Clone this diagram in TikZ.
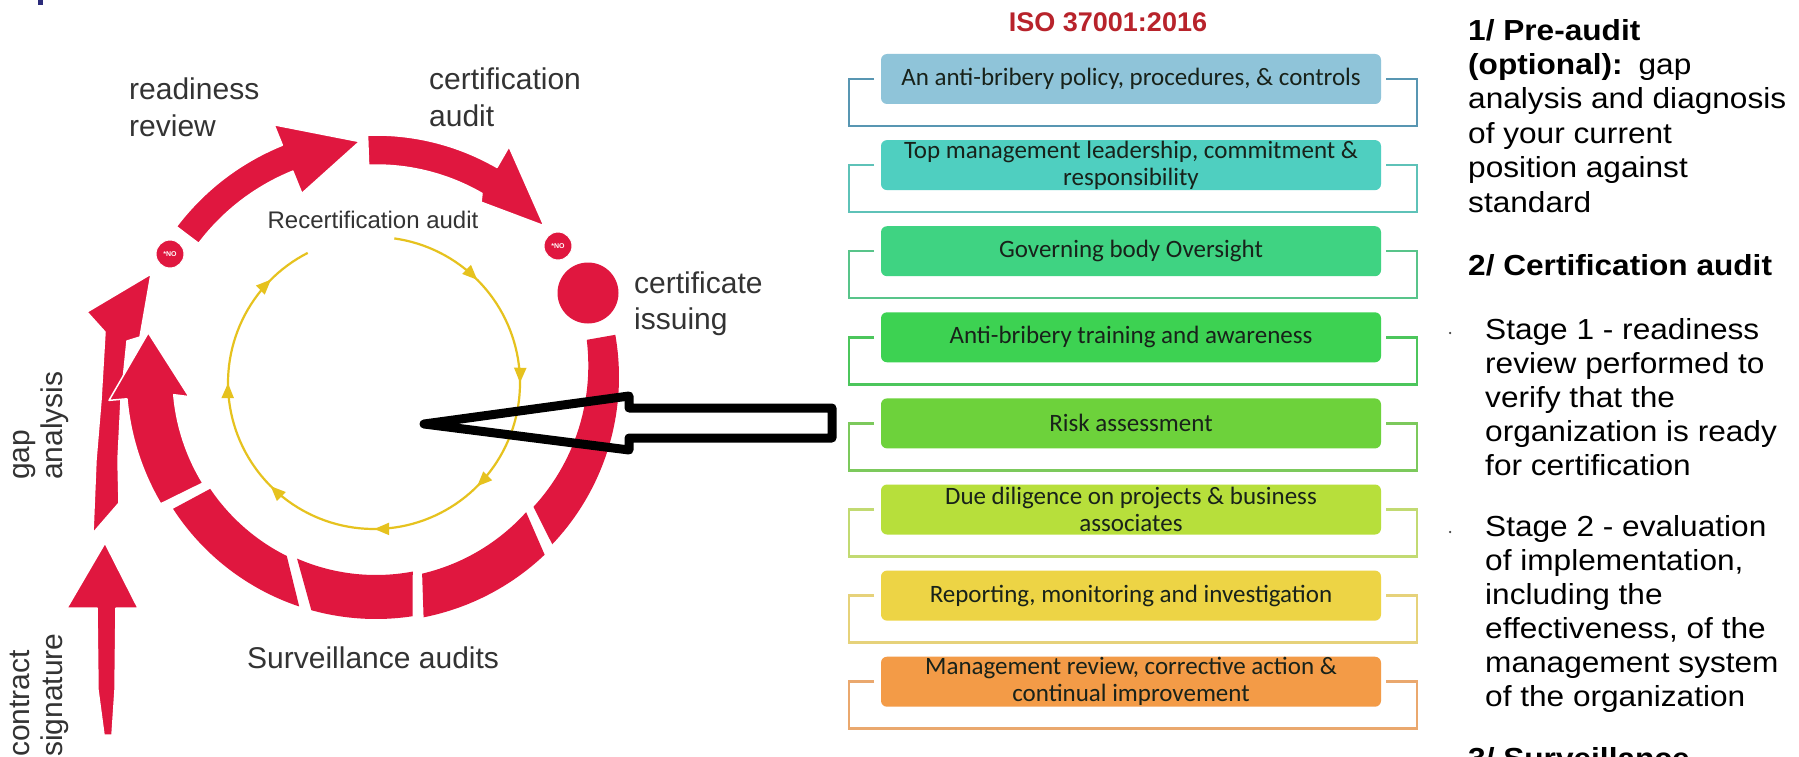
\documentclass[tikz,border=0pt]{standalone}
\usepackage{fontspec}
\setmainfont{Liberation Sans}
\newfontfamily\carl{Carlito}
\newfontfamily\rfont[FakeStretch=1.09]{Liberation Sans}
\usetikzlibrary{arrows.meta,decorations.markings,calc}
\definecolor{ringred}{HTML}{E0173F}
\definecolor{yel}{HTML}{E6C21E}
\definecolor{labgray}{HTML}{333333}
\definecolor{isored}{HTML}{B8232B}
\definecolor{boxtext}{HTML}{18221A}
\definecolor{navy}{HTML}{2B2B7A}
\definecolor{boxA}{HTML}{8FC4D9}
\definecolor{boxB}{HTML}{4FCFC0}
\definecolor{boxC}{HTML}{3FD382}
\definecolor{boxD}{HTML}{3DD252}
\definecolor{boxE}{HTML}{6DD23B}
\definecolor{boxF}{HTML}{B7DF3B}
\definecolor{boxG}{HTML}{EDD445}
\definecolor{boxH}{HTML}{F39B47}
\definecolor{brA}{HTML}{5896B2}
\definecolor{brB}{HTML}{5EC2B8}
\definecolor{brC}{HTML}{58C48A}
\definecolor{brD}{HTML}{4CC65C}
\definecolor{brE}{HTML}{7CC95C}
\definecolor{brF}{HTML}{C2DA72}
\definecolor{brG}{HTML}{E6D27A}
\definecolor{brH}{HTML}{EAA86E}
\tikzset{
  lab/.style={text=labgray, inner sep=0pt, font=\fontsize{30}{36}\selectfont},
  rtext/.style={anchor=base west, inner sep=0pt, text=black, font=\rfont\fontsize{29}{34}\selectfont},
  nocirc/.style={circle, fill=ringred, draw=white, line width=1pt, minimum size=28pt, inner sep=0pt, text=white, font=\fontsize{7}{7}\selectfont\bfseries},
  redpiece/.style={fill=ringred, draw=white, line width=1.5pt, line join=round},
  isotext/.style={inner sep=0pt, align=center, text=boxtext, font=\carl\fontsize{25}{27}\selectfont},
  bullet/.style={circle, fill=black!75, inner sep=0pt, minimum size=2.5pt}
}
\begin{document}
\begin{tikzpicture}[x=1pt,y=-1pt]
\useasboundingbox (0,0) rectangle (1799,757);
\clip (0,0) rectangle (1799,757);
\fill[white] (0,0) rectangle (1799,757);
\fill[navy] (38,0) rectangle (43,5);

% ---------- straight arrow (contract signature) ----------
\fill[redpiece] (67,608) -- (105,543) -- (138,608) -- (116,608) -- (115,690) -- (112,735) -- (104,735) -- (98,690) -- (97,608) -- cycle;
% ---------- outer left arrow (gap analysis) ----------
\fill[redpiece] (93,533) -- (96,460) -- (101,400) -- (105,332) -- (87,312) -- (151,274) -- (140,337) -- (127,341) -- (121,400) -- (118,460) -- (119,503) -- cycle;

% ---------- ring ----------
\begin{scope}[shift={(376,377)}]
  % right arc
  \fill[ringred] plot[domain=-10:43.5,samples=40] (\x:243) -- plot[domain=39.5:-10,samples=40] (\x:{214-(\x+10)*0.2}) -- cycle;
  % bottom segments
  \fill[ringred] plot[domain=46.5:78.8,samples=30] (\x:245) -- plot[domain=76.8:42,samples=30] (\x:202) -- cycle;
  \fill[ringred] plot[domain=81.3:105.5,samples=30] (\x:242) -- plot[domain=113.5:79.3,samples=30] (\x:198) -- cycle;
  \fill[ringred] plot[domain=108.5:147,samples=30] (\x:242) -- plot[domain=146:116.5,samples=30] (\x:200) -- cycle;
  % inner left arrow
  \filldraw[redpiece] plot[domain=149.5:175,samples=30] (\x:250) -- (175:268) -- (191:232) -- (174:188) -- plot[domain=175:148.5,samples=30] (\x:203) -- cycle;
  % readiness review arrow
  \filldraw[redpiece] plot[domain=217:248,samples=30] (\x:250) -- (248:272) -- (266:236) -- (248:198) -- plot[domain=248:217,samples=30] (\x:222) -- cycle;
  % certification audit arrow
  \filldraw[redpiece] plot[domain=268:300,samples=30] (\x:242) -- (300:266) -- (318:226) -- (301:204) -- plot[domain=300:268,samples=30] (\x:212) -- cycle;
\end{scope}
\node[nocirc] (no1) at (170,254) {*NO};
\node[nocirc] (no2) at (558,246) {*NO};
\node[circle, fill=ringred, minimum size=61pt, inner sep=0pt] (dot) at (588,293) {};

% ---------- yellow recertification cycle ----------
\draw[yel, line width=2.2pt, postaction={decorate},
  decoration={markings,
    mark=at position 0.114 with {\arrow[yel]{Triangle[length=15pt,width=12pt]}},
    mark=at position 0.252 with {\arrow[yel]{Triangle[length=15pt,width=12pt]}},
    mark=at position 0.391 with {\arrow[yel]{Triangle[length=15pt,width=12pt]}},
    mark=at position 0.529 with {\arrow[yel]{Triangle[length=15pt,width=12pt]}},
    mark=at position 0.668 with {\arrow[yel]{Triangle[length=15pt,width=12pt]}},
    mark=at position 0.806 with {\arrow[yel]{Triangle[length=15pt,width=12pt]}},
    mark=at position 0.945 with {\arrow[yel]{Triangle[length=15pt,width=12pt]}}}]
  plot[domain=278:603,samples=140] ({374+146*cos(\x)},{383+146*sin(\x)});

% ---------- left labels ----------
\node[lab, anchor=base west] (rr1) at (129,100) {readiness};
\node[lab, anchor=base west] (rr2) at (129,136) {review};
\node[lab, anchor=base west] (ca1) at (429,90) {certification};
\node[lab, anchor=base west] (ca2) at (429,127) {audit};
\node[lab, anchor=base, font=\fontsize{24}{28}\selectfont] (rec) at (373,228) {Recertification audit};
\node[lab, anchor=base west] (ci1) at (634,293) {certificate};
\node[lab, anchor=base west] (ci2) at (634,329) {issuing};
\node[lab, anchor=base west] (sa) at (247,668) {Surveillance audits};
\node[lab, rotate=90, anchor=base west] (ga1) at (29,480) {gap};
\node[lab, rotate=90, anchor=base west] (ga2) at (62,480) {analysis};
\node[lab, rotate=90, anchor=base west] (cs1) at (29,757) {contract};
\node[lab, rotate=90, anchor=base west] (cs2) at (62,757) {signature};

% ---------- ISO 37001 column ----------
\node[anchor=base, inner sep=0pt, text=isored, font=\bfseries\fontsize{27}{30}\selectfont] (iso) at (1108,32) {ISO 37001:2016};
\foreach \i/\fc/\bc/\txt in {
  1/boxA/brA/{An anti-bribery policy, procedures, \& controls},
  2/boxB/brB/{Top management leadership, commitment \&\\responsibility},
  3/boxC/brC/{Governing body Oversight},
  4/boxD/brD/{Anti-bribery training and awareness},
  5/boxE/brE/{Risk assessment},
  6/boxF/brF/{Due diligence on projects \& business\\associates},
  7/boxG/brG/{Reporting, monitoring and investigation},
  8/boxH/brH/{Management review, corrective action \&\\continual improvement}}{
  \pgfmathsetmacro\yc{79+(\i-1)*86.1}
  \draw[\bc, line width=2.5pt] (874,\yc) -- (849,\yc) -- (849,\yc+47) -- (1417,\yc+47) -- (1417,\yc) -- (1386,\yc);
  \node[fill=\fc, rounded corners=6pt, minimum width=500pt, minimum height=50pt, inner sep=0pt] (box\i) at (1131,\yc) {};
  \node[isotext] (txt\i) at (box\i.center) {\txt};
}

% ---------- black pointer arrow (from Risk assessment into the cycle) ----------
\coordinate (ptip) at (424,424);
\draw[line width=9pt, line join=round] (ptip) -- (629,396) -- (629,408) -- (832,408) -- (832,438) -- (629,438) -- (629,450) -- cycle;

% ---------- right text column ----------
\node[rtext] (p1) at (1468,41) {\textbf{1/ Pre-audit}};
\node[rtext] (p2) at (1468,75) {\textbf{(optional):}\hspace{0.55em}gap};
\node[rtext] (p3) at (1468,109) {analysis and diagnosis};
\node[rtext] (p4) at (1468,144) {of your current};
\node[rtext] (p5) at (1468,178) {position against};
\node[rtext] (p6) at (1468,212) {standard};
\node[rtext] (h2) at (1468,275) {\textbf{2/ Certification audit}};
\node[bullet] (d1) at (1450,333) {};
\node[rtext] (s1) at (1485,339) {Stage 1 - readiness};
\node[rtext] (s2) at (1485,373) {review performed to};
\node[rtext] (s3) at (1485,407) {verify that the};
\node[rtext] (s4) at (1485,441) {organization is ready};
\node[rtext] (s5) at (1485,475) {for certification};
\node[bullet] (d2) at (1450,532) {};
\node[rtext] (t1) at (1485,536) {Stage 2 - evaluation};
\node[rtext] (t2) at (1485,570) {of implementation,};
\node[rtext] (t3) at (1485,604) {including the};
\node[rtext] (t4) at (1485,638) {effectiveness, of the};
\node[rtext] (t5) at (1485,672) {management system};
\node[rtext] (t6) at (1485,706) {of the organization};
\node[rtext] (h3) at (1468,768) {\textbf{3/ Surveillance}};
\end{tikzpicture}
\end{document}
